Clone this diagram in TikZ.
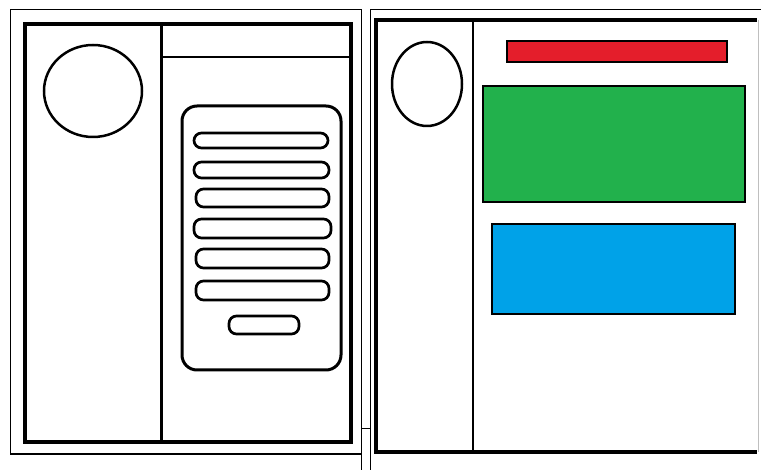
\documentclass[tikz,border=0pt]{standalone}
\definecolor{pred}{HTML}{E41E2B}
\definecolor{pgreen}{HTML}{22B14C}
\definecolor{pblue}{HTML}{00A2E8}
\begin{document}
\begin{tikzpicture}[x=1pt,y=-1pt,
  thin frame/.style={line width=1pt,black},
  thick frame/.style={line width=4pt,black},
  divider/.style={line width=3pt,black},
  pill/.style={line width=2.7pt,black,rounded corners=7.5pt},
  colorbox/.style={line width=2pt,black}]
\useasboundingbox[fill=white] (0,0) rectangle (761,470);
% outer thin frames
\draw[thin frame] (361,470) -- (361,454) -- (10,454) -- (10,10) -- (361,10) -- (361,454);
\draw[thin frame] (761,10) -- (370,10) -- (370,470);
\draw[thin frame] (361,429) -- (370,429);
% left panel
\draw[thick frame] (25,24) rectangle (351,442);
\draw[divider] (161,24) -- (161,442);
\draw[line width=2pt] (161,57) -- (351,57);
\draw[line width=2.5pt] (93,91) ellipse [x radius=49, y radius=46];
\draw[line width=3pt, rounded corners=15pt] (182,106) rectangle (341,370);
\draw[pill] (194,133) rectangle (328,148);
\draw[pill] (194,162) rectangle (329,178);
\draw[pill] (196,189) rectangle (329,207);
\draw[pill] (194,219) rectangle (331,238);
\draw[pill] (196,249) rectangle (329,268);
\draw[pill] (196,281) rectangle (329,300);
\draw[pill] (229,316) rectangle (299,334);
% right panel
\draw[line width=4pt] (757,20) -- (376,20) -- (376,452) -- (757,452);
\draw[line width=1pt, black!25] (758,20) -- (758,452);
\draw[line width=2.5pt] (473,20) -- (473,452);
\draw[line width=2.5pt] (427,84) ellipse [x radius=35, y radius=42];
\draw[colorbox, fill=pred] (507,41) rectangle (727,62);
\draw[colorbox, fill=pgreen] (483,86) rectangle (745,202);
\draw[colorbox, fill=pblue] (492,224) rectangle (735,314);
\end{tikzpicture}
\end{document}
